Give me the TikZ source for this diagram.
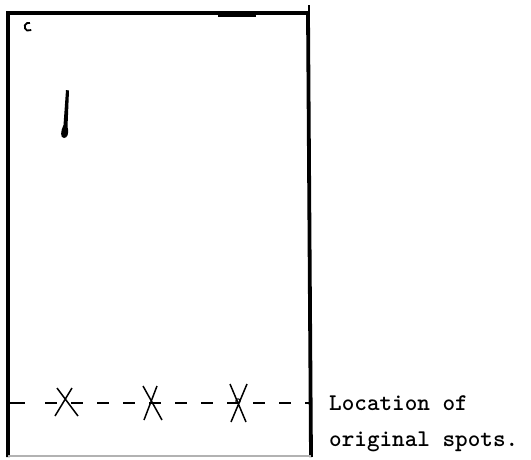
\documentclass[tikz,border=0pt]{standalone}
\begin{document}
\begin{tikzpicture}[x=1pt,y=-1pt,
  frame/.style={line width=3.8pt,black},
  spotline/.style={line width=1.8pt,black,dash pattern=on 12pt off 14pt},
  cross/.style={line width=1.5pt,black},
  label/.style={font=\ttfamily\bfseries\fontsize{24}{27}\selectfont,anchor=base west,inner sep=0pt}]
\useasboundingbox (0,0) rectangle (531,459);
% frame
\draw[frame] (8,457) -- (8,13) -- (308,13) -- (311,457);
\draw[line width=1.2pt,gray!60] (8,456) -- (311,456);
\draw[line width=1.8pt] (309,5) -- (309,14);
\draw[line width=5.5pt] (218,14) -- (256,14);
% small mark top-left
\draw[line width=1.8pt] (30,23) arc[start angle=70,end angle=250,radius=4pt] -- ++(4,-0.5);
% streak
\fill (66,90) -- (69,90.5) -- (67.5,127) .. controls (69.5,134) and (67,138) .. (64,138)
  .. controls (60,138) and (60.5,131) .. (63.5,125) -- cycle;
% dashed baseline
\draw[line width=1.8pt] (8,403) -- (25,403);
\draw[spotline] (45,403) -- (311,403);
% spots
\draw[cross] (57,388) -- (78,416) (72,388) -- (55,416);
\draw[cross] (143,386) -- (162,420) (157,386) -- (144,420);
\draw[cross] (230,384) -- (246,422) (247,384) -- (231,422);
\draw[line width=1pt] (238,401) circle[radius=2.2pt];
% labels
\node[label] (l1) at (329,410) {Location of};
\node[label] (l2) at (329,446) {original spots.};
\end{tikzpicture}
\end{document}
